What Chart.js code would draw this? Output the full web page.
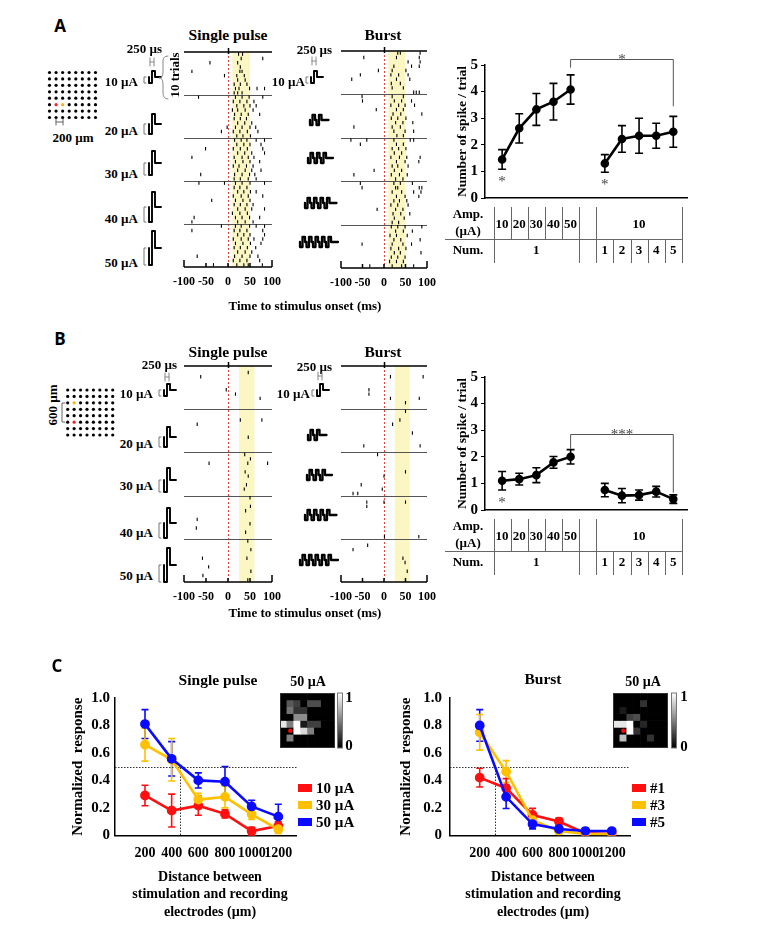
<!DOCTYPE html>
<html><head><meta charset="utf-8">
<script src="https://cdn.jsdelivr.net/npm/chart.js@4.4.0/dist/chart.umd.min.js"></script>
<style>
body{margin:0;background:#fff;}
#root{position:relative;width:759px;height:928px;overflow:hidden;font-family:'Liberation Serif','Times New Roman',serif;font-weight:bold;color:#000;}
.t{position:absolute;white-space:nowrap;line-height:1;}
canvas{position:absolute;}
</style></head><body><div id="root"></div>
<script>
// ---------------- DATA ----------------
// Raster spike times (ms); each raster: 5 bands x 10 trials
const rasterASingle = [
  [[24,33],[30,79],[-41,22],[28],[-82,27,32],[-8,20,37],[22,39],[14,28,43],[17,25,49,66,83],[14,22,32]],
  [[-67,17,32,48,79],[12,27,43,59],[20,36,50,64],[10,22,39,57],[15,30,46,72],[14,28,42],[22,38,54],[-2,17,32,50,63],[-15,12,27,44,68],[20,34,51]],
  [[15,30,43,64,83],[20,36,50,75],[-51,12,28,44,79],[22,38,54,83],[-82,14,32,46,59],[17,34,50,72],[12,25,42,57],[22,39,54,75],[-62,15,32,49,61],[14,28,46,64]],
  [[-66,-8,17,32,50,83],[14,27,43],[22,36,51,64],[12,30,46,79],[-37,17,34,50],[14,28,43,57],[22,39,54,83],[10,27,44],[-77,17,32,49,72],[-82,22,39,57]],
  [[-15,17,30,49,64,83],[-82,14,27,43,79],[22,36,50,83],[12,30,46,59,79],[17,34,51,75],[14,28,44,63],[22,39,54],[-70,15,32,50,68],[12,27,43,72],[-33,20,36,46,78]]
];
const rasterABurst = [
  [[32,38,84],[-47,29,82],[56,84],[23,64,82],[-13,19,51],[-55,16,34,56],[-75,29,60],[17,38],[19,45],[69,75,82]],
  [[-51,19,45],[-50,24,41,64],[16,34,49,71],[-18,29,45],[21,39,88],[17,32,51],[27,44,67],[-70,19,38],[23,49,69],[30,45]],
  [[-77,-40,23,61,69],[-55,29,45],[19,34,51],[24,41],[16,36,53,84],[29,49,81],[19,32,56],[-23,24,41],[-70,17,36,54],[27,44]],
  [[-55,23,38,66],[-51,27,32,82,88],[19,41,69,86],[29,49,81],[23,36,53],[16,32,56],[-16,27,44],[21,39,60],[24,47],[19,34]],
  [[17,32,49,88],[27,45,66],[14,29,54],[23,39,84],[-51,19,44,64],[16,34,51],[24,38,86],[17,32,49],[13,29,45],[-33,19,41,69]]
];
const rasterBSingle = [
  [[],[46],[-62],[],[],[-4],[17],[73],[],[]],
  [[],[],[28,77],[-70],[],[],[46],[],[],[]],
  [[38],[51],[-43,45,90],[],[39],[46],[],[42],[37],[]],
  [[50],[],[51],[40],[],[-70],[50],[-72],[40],[]],
  [[45],[],[52],[],[-58,43],[],[-44],[52],[-57],[45]]
];
const rasterBBurst = [
  [[],[],[15,91],[],[],[-35],[-35],[15,82],[50],[]],
  [[50],[],[37],[20],[],[66],[],[],[-47,84],[]],
  [[-15],[],[],[],[50],[0],[],[-53],[-4],[-72,-61]],
  [[],[-40,0,50],[-40],[],[],[],[],[],[],[1,81]],
  [[],[-38],[-72],[],[44],[49],[],[54],[],[]]
];
const windowA = [10, 50];
const windowB = [25, 60];
const timeTicks = [-100, -50, 0, 50, 100];
const ampLabels = ['10 µA','20 µA','30 µA','40 µA','50 µA'];

// Spike count summary (mean, error)
const ampCats = ['10','20','30','40','50'];
const numCats = ['1','2','3','4','5'];
const burstAmp = '10';
const singleNum = '1';
const aSingleMean = [1.45, 2.62, 3.33, 3.62, 4.08];
const aSingleErr  = [0.37, 0.55, 0.60, 0.69, 0.55];
const aBurstMean  = [1.30, 2.22, 2.34, 2.34, 2.49];
const aBurstErr   = [0.33, 0.50, 0.66, 0.47, 0.58];
const bSingleMean = [1.10, 1.16, 1.31, 1.79, 2.00];
const bSingleErr  = [0.35, 0.22, 0.28, 0.22, 0.27];
const bBurstMean  = [0.75, 0.54, 0.56, 0.69, 0.41];
const bBurstErr   = [0.25, 0.27, 0.19, 0.20, 0.16];

// Panel C
const distances = [200, 400, 600, 800, 1000, 1200];
const sp10 = [0.29, 0.18, 0.216, 0.156, 0.031, 0.068];
const sp10Err = [0.075, 0.12, 0.07, 0.03, 0.028, 0.03];
const sp30 = [0.66, 0.55, 0.26, 0.28, 0.153, 0.044];
const sp30Err = [0.12, 0.155, 0.045, 0.08, 0.037, 0.03];
const sp50 = [0.81, 0.557, 0.40, 0.39, 0.21, 0.136];
const sp50Err = [0.105, 0.125, 0.055, 0.11, 0.045, 0.09];
const bu1 = [0.42, 0.343, 0.148, 0.10, 0.015, 0.01];
const bu1Err = [0.068, 0.07, 0.048, 0.025, 0.01, 0.005];
const bu3 = [0.75, 0.464, 0.11, 0.031, 0.01, 0.005];
const bu3Err = [0.13, 0.08, 0.02, 0.02, 0.005, 0.005];
const bu5 = [0.80, 0.28, 0.082, 0.046, 0.031, 0.031];
const bu5Err = [0.115, 0.085, 0.035, 0.02, 0.02, 0.01];
const singleLegend = ['10 µA', '30 µA', '50 µA'];
const burstLegend = ['#1', '#3', '#5'];
const halfLevel = 0.5;
const halfDistSingle = 465;
const halfDistBurst = 315;

const heatSingle = [
  [0,0,0,0,0,0,0,0],
  [0,0.35,0.25,0,0.3,0.3,0,0],
  [0,0.45,0.2,0.2,0,0,0,0],
  [0,0,0.55,0.55,0,0,0,0],
  [0.9,0.5,1,0.1,0.25,0.25,0,0],
  [0,0,1,0.85,0.5,0,0,0],
  [0,0.5,0,0,0,0,0,0],
  [0,0,0,0,0,0,0,0]
];
const heatBurst = [
  [0,0,0,0,0,0,0,0],
  [0,0,0,0,0.2,0,0,0],
  [0,0.1,0,0,0,0,0,0],
  [0,0,0.25,0.3,0,0,0,0],
  [0.9,0.9,1,0,0.15,0,0,0],
  [0,0,1,0.2,0,0,0,0],
  [0,0.75,0,0,0,0.2,0,0],
  [0,0,0,0,0,0,0,0]
];
const stimCell = [1, 5];

// ---------------- STYLE ----------------
const SERIF = "'Liberation Serif','Times New Roman',serif";
const SANS = "'Open Sans','Liberation Sans',Arial,sans-serif";
const YELLOW = '#fbf6c2';
const RED = '#ff1010', ORANGE = '#ffc000', BLUE = '#0a0aff';
Chart.defaults.font.family = SERIF;
Chart.defaults.font.weight = 'bold';
Chart.defaults.color = '#000';

const root = document.getElementById('root');
function txt(x, y, s, o = {}) {
  const d = document.createElement('div');
  d.className = 't'; d.textContent = s;
  d.style.left = x + 'px'; d.style.top = y + 'px';
  d.style.fontSize = (o.size || 13) + 'px';
  if (o.font) d.style.fontFamily = o.font;
  if (o.color) d.style.color = o.color;
  const ax = o.align === 'right' ? '-100%' : o.align === 'left' ? '0' : '-50%';
  d.style.transform = `translate(${ax},-50%)` + (o.rot ? ` rotate(${o.rot}deg)` : '');
  root.appendChild(d);
  return d;
}
function mkCanvas(l, t, w, h) {
  const c = document.createElement('canvas');
  c.width = w; c.height = h;
  c.style.left = l + 'px'; c.style.top = t + 'px';
  c.style.width = w + 'px'; c.style.height = h + 'px';
  root.appendChild(c);
  return c;
}

// ---------------- RASTERS ----------------
const rasterPlugin = {
  id: 'rasterDeco',
  beforeDatasetsDraw(chart, args, o) {
    const {ctx, chartArea: a, scales: {x, y}} = chart;
    ctx.save();
    const w0 = x.getPixelForValue(o.win[0]), w1 = x.getPixelForValue(o.win[1]);
    ctx.fillStyle = YELLOW;
    ctx.fillRect(w0, a.top, w1 - w0, a.bottom - a.top);
    const x0 = Math.round(x.getPixelForValue(0)) + 0.5;
    ctx.strokeStyle = '#e0483c'; ctx.lineWidth = 1; ctx.setLineDash([2, 2]);
    ctx.beginPath(); ctx.moveTo(x0, a.top); ctx.lineTo(x0, a.bottom); ctx.stroke();
    ctx.setLineDash([]);
    ctx.strokeStyle = '#555';
    for (let k = 10; k < 50; k += 10) {
      const yy = Math.round(y.getPixelForValue(k)) + 0.5;
      ctx.beginPath(); ctx.moveTo(a.left, yy); ctx.lineTo(a.right, yy); ctx.stroke();
    }
    ctx.strokeStyle = '#000'; ctx.lineWidth = 1.5;
    ctx.beginPath();
    ctx.moveTo(a.left, a.top); ctx.lineTo(a.right, a.top);
    ctx.moveTo(x0, a.top - 4); ctx.lineTo(x0, a.top + 2);
    ctx.moveTo(a.left, a.bottom); ctx.lineTo(a.right, a.bottom);
    x.ticks.forEach(t => {
      const px = x.getPixelForValue(t.value);
      const h = (t.value === x.min || t.value === x.max) ? 7 : 4;
      ctx.moveTo(px, a.bottom); ctx.lineTo(px, a.bottom - h);
    });
    ctx.stroke();
    ctx.restore();
  }
};
function rasterChart(area, bands, win) {
  const c = mkCanvas(area.l - 16, area.t - 8, area.r - area.l + 32, area.b - area.t + 8 + 30);
  const pts = [];
  bands.forEach((band, b) => band.forEach((trial, r) => trial.forEach(t => pts.push({x: t, y: b * 10 + r + 0.5}))));
  return new Chart(c, {
    type: 'scatter',
    data: {datasets: [{data: pts, pointStyle: 'line', pointRotation: 90, pointRadius: 1.7,
      pointBorderColor: '#000', pointBorderWidth: 1.1, pointBackgroundColor: '#000'}]},
    options: {
      responsive: false, animation: false, events: [],
      layout: {padding: {left: 16, right: 16, top: 8, bottom: 0}},
      plugins: {legend: {display: false}, tooltip: {enabled: false}, rasterDeco: {win}},
      scales: {
        x: {type: 'linear', min: -100, max: 100,
          grid: {display: false, drawTicks: false}, border: {display: false},
          afterBuildTicks: s => { s.ticks = timeTicks.map(v => ({value: v})); },
          ticks: {autoSkip: false, maxRotation: 0, padding: 8, color: '#000', font: {size: 12, weight: 'bold'},
            callback: v => String(v)},
          afterFit: s => { s.height = 30; }},
        y: {type: 'linear', min: 0, max: 50, reverse: true, display: false}
      }
    },
    plugins: [rasterPlugin]
  });
}
rasterChart({l: 181, t: 52, r: 273, b: 267}, rasterASingle, windowA);
rasterChart({l: 338, t: 51, r: 428, b: 268}, rasterABurst, windowA);
rasterChart({l: 181, t: 366, r: 273, b: 582}, rasterBSingle, windowB);
rasterChart({l: 338, t: 366, r: 428, b: 582}, rasterBBurst, windowB);

// ---------------- ERROR BARS ----------------
const errPlugin = {
  id: 'errbars',
  beforeDatasetsDraw(chart, args, o) {
    const {ctx, scales: {y}} = chart;
    chart.data.datasets.forEach((ds, i) => {
      if (!ds.err) return;
      const meta = chart.getDatasetMeta(i);
      ctx.save();
      ctx.strokeStyle = ds.borderColor; ctx.lineWidth = o.width || 1.6;
      meta.data.forEach((p, j) => {
        const v = ds.data[j].y, e = ds.err[j];
        const y1 = y.getPixelForValue(v + e), y2 = y.getPixelForValue(v - e);
        const cap = o.cap || 4;
        ctx.beginPath();
        ctx.moveTo(p.x, y1); ctx.lineTo(p.x, y2);
        ctx.moveTo(p.x - cap, y1); ctx.lineTo(p.x + cap, y1);
        ctx.moveTo(p.x - cap, y2); ctx.lineTo(p.x + cap, y2);
        ctx.stroke();
      });
      ctx.restore();
    });
  }
};

// ---------------- SPIKE COUNT CHARTS ----------------
const tablePlugin = {
  id: 'spikeTable',
  afterDraw(chart, args, o) {
    const {ctx, chartArea: a, scales: {x, y}} = chart;
    const px = v => x.getPixelForValue(v);
    const top = a.bottom + 9, mid = a.bottom + 41, bot = a.bottom + 65;
    ctx.save();
    ctx.strokeStyle = '#666'; ctx.lineWidth = 1;
    const vline = (v, y1, y2) => { const X = Math.round(px(v)) + 0.5; ctx.beginPath(); ctx.moveTo(X, y1); ctx.lineTo(X, y2); ctx.stroke(); };
    [-0.5, 4.5, 5.5, 10.5].forEach(v => vline(v, top, bot));
    [0.5, 1.5, 2.5, 3.5].forEach(v => vline(v, top, mid));
    [6.5, 7.5, 8.5, 9.5].forEach(v => vline(v, mid, bot));
    ctx.beginPath(); ctx.moveTo(a.left - 40, mid + 0.5); ctx.lineTo(px(10.5), mid + 0.5); ctx.stroke();
    ctx.fillStyle = '#000'; ctx.textAlign = 'center'; ctx.textBaseline = 'middle';
    ctx.font = `bold 13px ${SERIF}`;
    ctx.fillText('Amp.', a.left - 17, a.bottom + 17);
    ctx.fillText('(µA)', a.left - 17, a.bottom + 34);
    ampCats.forEach((c, i) => ctx.fillText(c, px(i), a.bottom + 27));
    ctx.fillText(burstAmp, px(8), a.bottom + 27);
    ctx.fillText('Num.', a.left - 17, a.bottom + 53);
    ctx.fillText(singleNum, px(2), a.bottom + 53);
    numCats.forEach((c, i) => ctx.fillText(c, px(6 + i), a.bottom + 53));
    // significance bracket
    const s = o.sig;
    const x1 = px(4), x2 = px(10), yT = Math.round(y.getPixelForValue(s.top)) + 0.5;
    ctx.strokeStyle = '#555';
    ctx.beginPath();
    ctx.moveTo(x1, y.getPixelForValue(s.left)); ctx.lineTo(x1, yT); ctx.lineTo(x2, yT); ctx.lineTo(x2, y.getPixelForValue(s.right));
    ctx.stroke();
    ctx.fillStyle = '#444'; ctx.font = `15px ${SERIF}`; ctx.textBaseline = 'alphabetic';
    ctx.fillText(s.label, (x1 + x2) / 2, yT + 4);
    // asterisks under points
    o.under.forEach(u => {
      const ds = chart.data.datasets[u.ds];
      const pt = ds.data[u.i];
      const yy = y.getPixelForValue(pt.y - ds.err[u.i]);
      ctx.fillText('*', x.getPixelForValue(pt.x), yy + 17);
    });
    ctx.restore();
  }
};
function spikeChart(top, sMean, sErr, bMean, bErr, sig, under) {
  const c = mkCanvas(420, top, 280, 245);
  return new Chart(c, {
    type: 'scatter',
    data: {datasets: [
      {data: sMean.map((v, i) => ({x: i, y: v})), err: sErr},
      {data: bMean.map((v, i) => ({x: i + 6, y: v})), err: bErr}
    ].map(d => Object.assign(d, {showLine: true, borderColor: '#000', borderWidth: 2.6, pointRadius: 3,
        pointBackgroundColor: '#000', pointBorderColor: '#000'}))},
    options: {
      responsive: false, animation: false, events: [],
      layout: {padding: {left: 30, right: 13, top: 35, bottom: 0}},
      plugins: {legend: {display: false}, tooltip: {enabled: false},
        errbars: {width: 1.6, cap: 4}, spikeTable: {sig, under}},
      scales: {
        x: {type: 'linear', min: -1, max: 10.8, grid: {display: false, drawTicks: false},
          ticks: {display: false}, border: {display: true, color: '#000', width: 1.5},
          afterFit: s => { s.height = 77; }},
        y: {type: 'linear', min: 0, max: 5,
          grid: {display: true, drawOnChartArea: false, drawTicks: true, tickLength: 4, color: '#000'},
          border: {display: true, color: '#000', width: 1.5},
          ticks: {stepSize: 1, padding: 3, color: '#000', font: {size: 15, weight: 'bold'}},
          title: {display: true, text: 'Number of spike / trial', color: '#000', font: {size: 13.5, weight: 'bold'}, padding: {top: 4, bottom: 4}},
          afterFit: s => { s.width = 35; }}
      }
    },
    plugins: [errPlugin, tablePlugin]
  });
}
spikeChart(30, aSingleMean, aSingleErr, aBurstMean, aBurstErr,
  {top: 5.23, left: 4.9, right: 3.45, label: '*'}, [{ds: 0, i: 0}, {ds: 1, i: 0}]);
spikeChart(342, bSingleMean, bSingleErr, bBurstMean, bBurstErr,
  {top: 2.85, left: 2.3, right: 0.65, label: '***'}, [{ds: 0, i: 0}]);

// ---------------- PANEL C ----------------
const halfPlugin = {
  id: 'half',
  beforeDatasetsDraw(chart, args, o) {
    const {ctx, chartArea: a, scales: {x, y}} = chart;
    const yy = Math.round(y.getPixelForValue(o.level)) + 0.5, xx = Math.round(x.getPixelForValue(o.dist)) + 0.5;
    ctx.save();
    ctx.strokeStyle = '#333'; ctx.lineWidth = 1; ctx.setLineDash([1.5, 1.5]);
    ctx.beginPath(); ctx.moveTo(a.left, yy); ctx.lineTo(a.right, yy);
    ctx.moveTo(xx, yy); ctx.lineTo(xx, a.bottom); ctx.stroke();
    ctx.restore();
  }
};
function distChart(left, padLeft, padRight, series, dist) {
  const c = mkCanvas(left, 660, 265, 215);
  return new Chart(c, {
    type: 'scatter',
    data: {datasets: series.map(s => ({data: distances.map((d, i) => ({x: d, y: s.mean[i]})), err: s.err,
      showLine: true, borderColor: s.color, backgroundColor: s.color, borderWidth: 2.6,
      pointRadius: 3.6, pointBackgroundColor: s.color, pointBorderColor: s.color}))},
    options: {
      responsive: false, animation: false, events: [],
      layout: {padding: {left: padLeft, right: padRight, top: 38, bottom: 0}},
      plugins: {legend: {display: false}, tooltip: {enabled: false},
        errbars: {width: 1.6, cap: 3.5}, half: {level: halfLevel, dist}},
      scales: {
        x: {type: 'linear', min: -25, max: 1338, grid: {display: false, drawTicks: false},
          border: {display: true, color: '#000', width: 1.5},
          afterBuildTicks: s => { s.ticks = distances.map(v => ({value: v})); },
          ticks: {autoSkip: false, maxRotation: 0, padding: 10, color: '#000', font: {size: 14, weight: 'bold'},
            callback: v => String(v)},
          afterFit: s => { s.height = 39.7; }},
        y: {type: 'linear', min: 0, max: 1, grid: {display: false, drawTicks: false},
          border: {display: true, color: '#000', width: 1.5},
          ticks: {stepSize: 0.2, padding: padLeft > 20 ? 5 : 8, color: '#000', font: {size: 15, weight: 'bold'}},
          title: {display: true, text: 'Normalized  response', color: '#000', font: {size: 15, weight: 'bold'}, padding: {top: 4, bottom: 4}},
          afterFit: s => { s.width = 75 - padLeft; }}
      }
    },
    plugins: [errPlugin, halfPlugin]
  });
}
distChart(40, 25, 8.3, [
  {mean: sp50, err: sp50Err, color: BLUE},
  {mean: sp30, err: sp30Err, color: ORANGE},
  {mean: sp10, err: sp10Err, color: RED}], halfDistSingle);
distChart(375, 18, 10, [
  {mean: bu5, err: bu5Err, color: BLUE},
  {mean: bu3, err: bu3Err, color: ORANGE},
  {mean: bu1, err: bu1Err, color: RED}], halfDistBurst);

// heatmaps
const heatPlugin = {
  id: 'heatDeco',
  afterDraw(chart, args, o) {
    const {ctx, chartArea: a, scales: {x, y}} = chart;
    ctx.save();
    ctx.strokeStyle = '#333'; ctx.lineWidth = 1;
    ctx.strokeRect(a.left + 0.5, a.top + 0.5, a.right - a.left - 1, a.bottom - a.top - 1);
    ctx.fillStyle = '#ff0000';
    ctx.beginPath(); ctx.arc(x.getPixelForValue(o.stim[0]), y.getPixelForValue(o.stim[1] + 0.5), 2.3, 0, Math.PI * 2); ctx.fill();
    const g = ctx.createLinearGradient(0, a.top, 0, a.bottom);
    g.addColorStop(0, '#ffffff'); g.addColorStop(1, '#000000');
    const cx = a.right + o.gap;
    ctx.fillStyle = g; ctx.fillRect(cx, a.top, 4, a.bottom - a.top);
    ctx.strokeStyle = '#777'; ctx.strokeRect(cx - 0.5, a.top, 5, a.bottom - a.top);
    ctx.restore();
  }
};
function heatChart(left, grid, gap) {
  const c = mkCanvas(left, 690, 85, 62);
  return new Chart(c, {
    type: 'bar',
    data: {labels: grid[0].map((_, i) => String(i + 1)),
      datasets: grid.map((row, r) => ({
        data: row.map(() => [r, r + 1]),
        backgroundColor: row.map(v => { const g = Math.round(v * 255); return `rgb(${g},${g},${g})`; }),
        borderWidth: 0, barPercentage: 1, categoryPercentage: 1, grouped: false
      }))},
    options: {
      responsive: false, animation: false, events: [],
      layout: {padding: {left: 2, right: 28, top: 3, bottom: 4}},
      plugins: {legend: {display: false}, tooltip: {enabled: false}, heatDeco: {stim: stimCell, gap}},
      scales: {x: {display: false}, y: {display: false, min: 0, max: 8, reverse: true}}
    },
    plugins: [heatPlugin]
  });
}
heatChart(278, heatSingle, 3);
heatChart(611, heatBurst, 4);

// ---------------- TEXT ----------------
txt(60, 25, 'A', {size: 17, font: SANS});
txt(228, 35, 'Single pulse', {size: 15.5});
txt(383, 35, 'Burst', {size: 15.5});
txt(162, 48, '250 µs', {align: 'right'});
txt(332, 49, '250 µs', {align: 'right'});
[81, 130, 173, 218, 262].forEach((y, i) => txt(138, y, ampLabels[i], {align: 'right'}));
txt(305, 81, ampLabels[0], {align: 'right'});
txt(174, 75, '10 trials', {rot: -90});
txt(305, 305, 'Time to stimulus onset (ms)');
txt(73, 137, '200 µm');

txt(60, 338, 'B', {size: 17, font: SANS});
txt(228, 352, 'Single pulse', {size: 15.5});
txt(383, 352, 'Burst', {size: 15.5});
txt(177, 364, '250 µs', {align: 'right'});
txt(332, 366, '250 µs', {align: 'right'});
[393, 443, 485, 532, 575].forEach((y, i) => txt(153, y, ampLabels[i], {align: 'right'}));
txt(310, 393, ampLabels[0], {align: 'right'});
txt(305, 612, 'Time to stimulus onset (ms)');
txt(52, 405, '600 µm', {rot: -90});

txt(57, 665, 'C', {size: 17, font: SANS});
txt(218, 680, 'Single pulse', {size: 15.5});
txt(543, 679, 'Burst', {size: 15.5});
txt(308, 682, '50 µA', {size: 14});
txt(643, 682, '50 µA', {size: 14});
txt(349, 697, '1', {size: 15}); txt(349, 745, '0', {size: 15});
txt(684, 696, '1', {size: 15}); txt(684, 746, '0', {size: 15});
const xTitle = ['Distance between', 'stimulation and recording', 'electrodes (µm)'];
[877, 894, 912].forEach((y, i) => { txt(210, y, xTitle[i], {size: 14}); txt(543, y, xTitle[i], {size: 14}); });
function legend(x, items, colors) {
  items.forEach((s, i) => {
    const y = 788 + i * 17;
    const sq = document.createElement('div');
    sq.style.cssText = `position:absolute;left:${x}px;top:${y - 4}px;width:14px;height:8px;background:${colors[i]}`;
    root.appendChild(sq);
    txt(x + 18, y, s, {size: 15, align: 'left'});
  });
}
legend(298, singleLegend, [RED, ORANGE, BLUE]);
legend(632, burstLegend, [RED, ORANGE, BLUE]);

// ---------------- DECORATION (icons, electrode grids) ----------------
const NS = 'http://www.w3.org/2000/svg';
const svg = document.createElementNS(NS, 'svg');
svg.setAttribute('width', 759); svg.setAttribute('height', 928);
svg.style.cssText = 'position:absolute;left:0;top:0;';
root.appendChild(svg);
function P(d, stroke, w) {
  const p = document.createElementNS(NS, 'path');
  p.setAttribute('d', d); p.setAttribute('fill', 'none');
  p.setAttribute('stroke', stroke); p.setAttribute('stroke-width', w);
  p.setAttribute('stroke-linejoin', 'round'); p.setAttribute('stroke-linecap', 'round');
  svg.appendChild(p);
}
function dot(x, y, r, c) {
  const e = document.createElementNS(NS, 'circle');
  e.setAttribute('cx', x); e.setAttribute('cy', y); e.setAttribute('r', r); e.setAttribute('fill', c);
  svg.appendChild(e);
}
function pulseIcon(x, b, a) {
  P(`M${x} ${b} V${b + a} H${x + 3} V${b - a} H${x + 6} V${b} H${x + 12}`, '#000', 1.9);
  P(`M${x - 3} ${b} H${x - 5} V${b + a} H${x - 3}`, '#777', 1);
}
function burstIcon(x, b, a, n) {
  let d = `M${x} ${b}`, cx = x;
  for (let k = 0; k < n; k++) {
    d += ` V${b + a} H${cx + 2.5} V${b - a} H${cx + 5} V${b}`;
    cx += 5;
    if (k < n - 1) { cx += 1.5; d += ` H${cx}`; }
  }
  d += ` H${cx + 7}`;
  P(d, '#000', 2.3);
}
function hBar(x, y) { P(`M${x} ${y - 4} V${y + 4} M${x + 4} ${y - 4} V${y + 4} M${x} ${y} H${x + 4}`, '#888', 1); }
// A single
[[77, 6], [124, 10], [163, 12], [207, 15], [248, 17]].forEach(([b, a]) => pulseIcon(149, b, a));
hBar(150, 62);
P('M168 56 Q163 56 163 61 V72 Q163 78 159 78 Q163 78 163 84 V93 Q163 99 168 99', '#888', 1);
// A burst
pulseIcon(311, 77, 6); hBar(312, 61);
[[310, 120, 2], [308, 158, 3], [305, 203, 4], [300, 242, 5]].forEach(([x, b, n]) => burstIcon(x, b, 5, n));
// B single
[[390, 6], [437, 10], [480, 12], [523, 15], [565, 17]].forEach(([b, a]) => pulseIcon(164, b, a));
hBar(165, 377);
// B burst
pulseIcon(317, 390, 6); hBar(318, 376);
[[308, 435, 2], [307, 475, 3], [305, 515, 4], [300, 560, 5]].forEach(([x, b, n]) => burstIcon(x, b, 5, n));
// electrode grids
for (let i = 0; i < 8; i++) for (let j = 0; j < 8; j++) {
  let c = '#000';
  if (i === 1 && j === 5) c = '#ff2020';
  if (i === 2 && j === 5) c = '#ffb000';
  dot(49.5 + i * 6.57, 72.5 + j * 6.43, 1.6, c);
  let c2 = '#000';
  if (i === 1 && j === 2) c2 = '#ffb000';
  if (i === 1 && j === 5) c2 = '#ff2020';
  dot(67.7 + i * 6.43, 390 + j * 6.43, 1.6, c2);
}
P('M56 119 V125 M63 119 V125 M56 122 H63', '#666', 1);
P('M65 403 H62 V422 H65', '#666', 1);
</script>
</body></html>
